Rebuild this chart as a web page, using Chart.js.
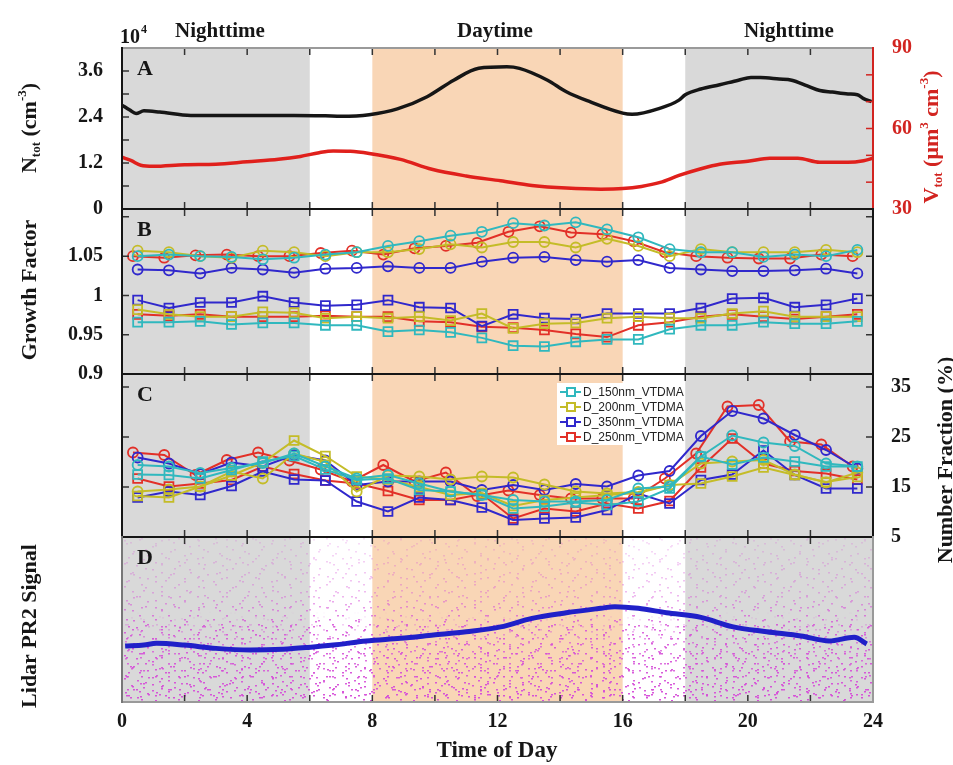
<!DOCTYPE html>
<html>
<head>
<meta charset="utf-8">
<script src="https://cdn.jsdelivr.net/npm/chart.js@4.4.0/dist/chart.umd.min.js"></script>
<style>
  html, body { margin: 0; padding: 0; background: #fff; }
  #wrap { position: relative; width: 953px; height: 765px; }
  #wrap canvas { position: absolute; left: 0; top: 0; }
</style>
</head>
<body>
<div id="wrap">
  <canvas id="cA" width="953" height="765"></canvas>
  <canvas id="cB" width="953" height="765"></canvas>
  <canvas id="cC" width="953" height="765"></canvas>
  <canvas id="cD" width="953" height="765"></canvas>
</div>
<script>
// ---------- periods of the day (hours) ----------
const nightPeriods = [[0, 6], [18, 24]];
const dayPeriod = [8, 16];
const periodLabels = ['Nighttime', 'Daytime', 'Nighttime'];

// ---------- tick labels ----------
const hourTicks = [0, 4, 8, 12, 16, 20, 24];
const ntotTicks = [0, 1.2, 2.4, 3.6];
const vtotTicks = [30, 60, 90];
const gfTicks = [0.9, 0.95, 1, 1.05];
const nfTicks = [5, 15, 25, 35];

// ---------- panel A: total number (x10^4 cm^-3) and volume (um^3 cm^-3) ----------
const ntotHours = [0, 0.25, 0.45, 0.7, 1.2, 2.2, 3.1, 4.4, 5.5, 6.5, 7.0, 7.9, 8.8, 9.75, 10.6, 11.4, 12.3, 12.7, 13.6, 14.2, 14.95, 16.0, 16.3, 17.2, 17.8, 18.0, 18.5, 19.1, 19.7, 20.1, 20.4, 21.0, 21.4, 21.9, 22.3, 22.7, 23.2, 23.5, 23.7, 23.95];
const ntotValues = [2.71, 2.58, 2.49, 2.56, 2.53, 2.44, 2.44, 2.44, 2.44, 2.43, 2.42, 2.46, 2.61, 2.93, 3.36, 3.67, 3.71, 3.67, 3.36, 3.06, 2.80, 2.50, 2.47, 2.63, 2.84, 2.98, 3.13, 3.24, 3.36, 3.43, 3.43, 3.39, 3.36, 3.21, 3.09, 3.05, 3.00, 2.98, 2.88, 2.80];
const vtotHours = [0, 0.3, 0.6, 1.0, 2.0, 3.0, 4.0, 5.0, 5.7, 6.3, 6.75, 7.3, 7.9, 8.9, 9.9, 11.0, 12.1, 13.1, 14.2, 15.3, 16.0, 16.6, 17.2, 17.8, 18.5, 19.1, 20.0, 20.7, 21.6, 22.3, 23.2, 23.7, 24];
const vtotValues = [49.3, 48.0, 46.3, 45.9, 46.5, 46.7, 47.6, 48.5, 49.6, 51.0, 51.6, 51.5, 50.7, 48.5, 44.8, 42.3, 40.5, 38.8, 37.8, 37.4, 37.6, 38.4, 39.9, 42.5, 45.0, 46.7, 47.8, 48.9, 48.9, 47.4, 47.4, 48.0, 48.9];

// ---------- panels B and C: VTDMA hourly scans ----------
const sizeLabels = ['D_150nm_VTDMA', 'D_200nm_VTDMA', 'D_350nm_VTDMA', 'D_250nm_VTDMA'];
const scanHours = [0.5, 1.5, 2.5, 3.5, 4.5, 5.5, 6.5, 7.5, 8.5, 9.5, 10.5, 11.5, 12.5, 13.5, 14.5, 15.5, 16.5, 17.5, 18.5, 19.5, 20.5, 21.5, 22.5, 23.5];
const scanHours250 = [0.35, 1.35, 2.35, 3.35, 4.35, 5.35, 6.35, 7.35, 8.35, 9.35, 10.35, 11.35, 12.35, 13.35, 14.35, 15.35, 16.35, 17.35, 18.35, 19.35, 20.35, 21.35, 22.35, 23.35];

// growth factor, upper mode (circles)
const gfHigh150 = [1.050, 1.052, 1.050, 1.049, 1.046, 1.048, 1.052, 1.055, 1.063, 1.069, 1.076, 1.081, 1.092, 1.089, 1.093, 1.084, 1.074, 1.059, 1.055, 1.055, 1.049, 1.052, 1.050, 1.058];
const gfHigh200 = [1.057, 1.055, 1.050, 1.048, 1.057, 1.055, 1.050, 1.055, 1.055, 1.059, 1.065, 1.061, 1.068, 1.068, 1.061, 1.072, 1.063, 1.050, 1.059, 1.055, 1.055, 1.055, 1.058, 1.055];
const gfHigh350 = [1.033, 1.032, 1.028, 1.035, 1.033, 1.029, 1.034, 1.035, 1.037, 1.035, 1.035, 1.043, 1.048, 1.049, 1.045, 1.043, 1.045, 1.035, 1.033, 1.031, 1.031, 1.032, 1.034, 1.028];
const gfHigh250 = [1.050, 1.048, 1.051, 1.052, 1.050, 1.050, 1.054, 1.057, 1.052, 1.060, 1.063, 1.067, 1.081, 1.088, 1.080, 1.078, 1.069, 1.055, 1.050, 1.048, 1.047, 1.047, 1.052, 1.050];
// growth factor, lower mode (squares)
const gfLow150 = [0.966, 0.966, 0.967, 0.963, 0.965, 0.965, 0.962, 0.962, 0.954, 0.956, 0.953, 0.946, 0.936, 0.935, 0.941, 0.944, 0.944, 0.957, 0.962, 0.962, 0.966, 0.964, 0.964, 0.967];
const gfLow200 = [0.982, 0.976, 0.973, 0.973, 0.979, 0.978, 0.971, 0.973, 0.971, 0.973, 0.968, 0.977, 0.958, 0.964, 0.965, 0.971, 0.973, 0.971, 0.971, 0.977, 0.980, 0.973, 0.973, 0.973];
const gfLow350 = [0.994, 0.984, 0.991, 0.991, 0.999, 0.991, 0.987, 0.988, 0.994, 0.985, 0.984, 0.961, 0.976, 0.971, 0.970, 0.977, 0.977, 0.977, 0.984, 0.996, 0.997, 0.985, 0.988, 0.996];
const gfLow250 = [0.976, 0.974, 0.976, 0.973, 0.973, 0.973, 0.974, 0.973, 0.973, 0.967, 0.966, 0.960, 0.959, 0.956, 0.951, 0.947, 0.962, 0.966, 0.973, 0.976, 0.973, 0.970, 0.973, 0.976];

// number fraction (%), upper mode (circles)
const nfHigh150 = [19.4, 19.1, 17.8, 18.8, 19.8, 21.7, 19.1, 16.7, 17.4, 15.7, 14.1, 13.4, 12.4, 12.1, 12.1, 12.4, 14.7, 15.1, 21.1, 25.3, 23.9, 23.2, 19.7, 19.1];
const nfHigh200 = [14.1, 14.5, 15.1, 18.1, 16.7, 21.7, 20.0, 14.1, 17.3, 17.1, 16.5, 17.1, 16.9, 15.5, 14.1, 13.7, 14.0, 15.4, 19.7, 20.1, 20.4, 17.5, 15.9, 17.9];
const nfHigh350 = [20.9, 19.7, 17.6, 19.9, 19.1, 21.4, 20.3, 15.4, 16.1, 16.1, 16.1, 14.4, 15.4, 14.4, 15.6, 15.1, 17.3, 18.2, 25.2, 30.2, 28.7, 25.4, 22.4, 18.7];
const nfHigh250 = [21.9, 21.4, 17.4, 20.4, 21.9, 20.3, 18.5, 16.1, 19.4, 16.1, 17.9, 13.2, 14.3, 13.4, 12.7, 12.7, 12.7, 16.7, 21.7, 31.1, 31.4, 24.1, 23.5, 19.1];
// number fraction (%), lower mode (squares)
const nfLow150 = [17.5, 17.4, 16.7, 18.4, 20.1, 21.2, 18.5, 16.4, 16.7, 14.4, 14.1, 13.4, 10.7, 11.1, 11.9, 11.4, 12.1, 14.7, 21.1, 19.5, 20.9, 20.1, 19.1, 19.1];
const nfLow200 = [13.2, 12.9, 15.1, 17.3, 19.9, 24.3, 21.2, 17.1, 16.5, 15.0, 13.4, 13.8, 11.2, 12.4, 12.9, 13.4, 13.8, 15.4, 15.7, 17.1, 18.9, 17.4, 16.0, 17.0];
const nfLow350 = [12.9, 14.1, 13.4, 15.2, 18.1, 16.5, 16.3, 12.1, 10.1, 12.9, 12.4, 10.9, 8.4, 8.7, 8.9, 10.4, 13.7, 11.7, 16.4, 17.5, 22.3, 17.4, 14.7, 14.7];
const nfLow250 = [16.7, 15.1, 15.7, 16.4, 19.1, 17.6, 16.3, 15.7, 14.2, 12.4, 12.4, 13.6, 8.7, 10.7, 10.1, 11.7, 10.7, 12.2, 18.9, 24.7, 19.7, 18.2, 17.7, 16.5];

// ---------- panel D: lidar PR2 signal (arbitrary units) ----------
const lidarHours = [0.1, 0.7, 1.1, 2.0, 3.0, 4.1, 5.15, 5.95, 6.75, 7.8, 8.9, 9.95, 11.0, 12.1, 13.1, 14.2, 15.3, 15.75, 16.5, 17.4, 18.5, 19.5, 20.6, 21.7, 22.6, 23.4, 23.8];
const lidarValues = [3.39, 3.45, 3.56, 3.45, 3.25, 3.15, 3.20, 3.31, 3.45, 3.70, 3.86, 4.06, 4.26, 4.55, 5.07, 5.41, 5.68, 5.78, 5.68, 5.41, 5.13, 4.57, 4.26, 4.00, 3.70, 3.92, 3.52];

// ---------- styling ----------
const SERIF = '"Liberation Serif", "Times New Roman", serif';
const SANS = '"Liberation Sans", Arial, sans-serif';
const NIGHT = '#d9d9d9';
const DAY = '#f9d6b6';
const INK = '#161616';
const RED = 'rgb(210,36,32)';
const sizeColors = ['rgb(48,184,190)', 'rgb(196,188,40)', 'rgb(48,40,204)', 'rgb(226,48,40)'];
const tickFont = { family: SERIF, size: 20, weight: 'bold' };

Chart.defaults.font.family = SERIF;

const pts = (xs, ys) => xs.map((x, i) => ({ x, y: ys[i] }));
const setTicks = values => scale => { scale.ticks = values.map(v => ({ value: v })); };

// rich text with sub/superscripts, drawn centred on (cx, cy)
function richText(ctx, parts, cx, cy, angle, color) {
  ctx.save();
  ctx.translate(cx, cy);
  ctx.rotate(angle);
  ctx.fillStyle = color;
  ctx.textAlign = 'left';
  ctx.textBaseline = 'alphabetic';
  let w = 0;
  parts.forEach(p => { ctx.font = p.font; p.w = ctx.measureText(p.text).width; w += p.w; });
  let x = -w / 2;
  parts.forEach(p => { ctx.font = p.font; ctx.fillText(p.text, x, 8 + (p.dy || 0)); x += p.w; });
  ctx.restore();
}
const BIG = `bold 22px ${SERIF}`;
const SMALL = `bold 13px ${SERIF}`;

// lidar returns: magenta speckle, thicker toward the ground.
// Dot tiles with unrelated periods are layered so the texture does not line up.
const speckleTiles = [
  { w: 37, h: 23, dots: [[2, 3], [19, 1], [30, 9], [11, 14], [25, 18], [6, 20]] },
  { w: 29, h: 19, dots: [[4, 6], [17, 2], [23, 12], [10, 16]] },
  { w: 43, h: 31, dots: [[8, 5], [33, 8], [21, 22], [39, 27], [14, 28]] }
];
const groundTiles = [
  { w: 31, h: 17, dots: [[3, 2], [15, 7], [26, 4], [9, 12], [21, 14]] },
  { w: 41, h: 13, dots: [[5, 9], [18, 3], [30, 10], [37, 1]] }
];
function speckleLayer(w, h, tiles, stops) {
  const off = document.createElement('canvas');
  off.width = w; off.height = h;
  const o = off.getContext('2d');
  tiles.forEach(tl => {
    const tile = document.createElement('canvas');
    tile.width = tl.w; tile.height = tl.h;
    const t = tile.getContext('2d');
    t.fillStyle = 'rgb(214,80,216)';
    tl.dots.forEach(([px, py]) => t.fillRect(px, py, 2, 1.5));
    o.fillStyle = o.createPattern(tile, 'repeat');
    o.fillRect(0, 0, w, h);
  });
  o.globalCompositeOperation = 'destination-in';
  const g = o.createLinearGradient(0, 0, 0, h);
  stops.forEach(([p, al]) => g.addColorStop(p, `rgba(0,0,0,${al})`));
  o.fillStyle = g;
  o.fillRect(0, 0, w, h);
  return off;
}
function drawSpeckle(ctx, a) {
  const w = Math.round(a.right - a.left), h = Math.round(a.bottom - a.top);
  ctx.drawImage(speckleLayer(w, h, speckleTiles, [[0, 0.18], [0.35, 0.4], [0.55, 0.85], [1, 1]]), a.left, a.top);
  ctx.drawImage(speckleLayer(w, h, groundTiles, [[0, 0], [0.45, 0], [0.65, 0.7], [1, 1]]), a.left, a.top);
}

// shading, frame, inward ticks, panel letter, legend and titles
const panelDecor = {
  id: 'panelDecor',
  beforeDatasetsDraw(chart, args, o) {
    const { ctx, chartArea: a, scales: { x } } = chart;
    ctx.save();
    const band = (h0, h1, c) => {
      const x0 = x.getPixelForValue(h0), x1 = x.getPixelForValue(h1);
      ctx.fillStyle = c;
      ctx.fillRect(x0, a.top, x1 - x0, a.bottom - a.top);
    };
    nightPeriods.forEach(p => band(p[0], p[1], NIGHT));
    band(dayPeriod[0], dayPeriod[1], DAY);
    if (o.speckle) drawSpeckle(ctx, a);
    ctx.restore();
  },
  afterDatasetsDraw(chart, args, o) {
    const { ctx, chartArea: a, scales } = chart;
    const x = scales.x;
    ctx.save();
    // inward time ticks
    ctx.strokeStyle = '#333';
    ctx.lineWidth = 1.5;
    for (let h = 2; h < 24; h += 2) {
      const px = x.getPixelForValue(h);
      ctx.beginPath();
      ctx.moveTo(px, a.top); ctx.lineTo(px, a.top + 7);
      ctx.moveTo(px, a.bottom); ctx.lineTo(px, a.bottom - 7);
      ctx.stroke();
    }
    // inward value ticks
    (o.valueTicks || []).forEach(t => {
      const s = scales[t.scale];
      ctx.strokeStyle = t.color || '#333';
      t.values.forEach(v => {
        const py = s.getPixelForValue(v);
        ctx.beginPath();
        if (t.side !== 'right') { ctx.moveTo(a.left, py); ctx.lineTo(a.left + 7, py); }
        if (t.side !== 'left') { ctx.moveTo(a.right, py); ctx.lineTo(a.right - 7, py); }
        ctx.stroke();
      });
    });
    // frame
    const fr = o.frame || {};
    const edge = (x0, y0, x1, y1, c) => {
      ctx.strokeStyle = c; ctx.lineWidth = 2;
      ctx.beginPath(); ctx.moveTo(x0, y0); ctx.lineTo(x1, y1); ctx.stroke();
    };
    edge(a.left, a.top, a.right, a.top, fr.top || INK);
    edge(a.left, a.bottom, a.right, a.bottom, fr.bottom || INK);
    edge(a.left, a.top - 1, a.left, a.bottom + 1, fr.left || INK);
    edge(a.right, a.top - 1, a.right, a.bottom + 1, fr.right || INK);
    // panel letter
    ctx.fillStyle = INK;
    ctx.font = `bold 22px ${SERIF}`;
    ctx.textAlign = 'left';
    ctx.textBaseline = 'alphabetic';
    ctx.fillText(o.letter, a.left + 15, a.top + 27);
    // legend
    if (o.legend) {
      const lx = 557, ly = 383, lw = 128, lh = 62;
      ctx.fillStyle = '#fff';
      ctx.fillRect(lx, ly, lw, lh);
      ctx.font = `12px ${SANS}`;
      ctx.textBaseline = 'middle';
      sizeLabels.forEach((lab, i) => {
        const yy = ly + 9 + i * 15;
        ctx.strokeStyle = sizeColors[i];
        ctx.lineWidth = 2;
        ctx.beginPath(); ctx.moveTo(lx + 3, yy); ctx.lineTo(lx + 24, yy); ctx.stroke();
        ctx.fillStyle = '#fff';
        ctx.fillRect(lx + 10, yy - 4, 8, 8);
        ctx.strokeRect(lx + 10, yy - 4, 8, 8);
        ctx.fillStyle = '#222';
        ctx.fillText(lab, lx + 26, yy + 1);
      });
    }
    ctx.restore();
  },
  afterDraw(chart, args, o) {
    if (o.titles) o.titles(chart.ctx, chart.chartArea, chart.scales);
  }
};

const base = {
  responsive: false,
  animation: false,
  devicePixelRatio: 1,
  events: [],
};
const xHidden = { type: 'linear', min: 0, max: 24, display: false };
const noGrid = { display: false };
const noBorder = { display: false };

// ---------- panel A ----------
new Chart(document.getElementById('cA'), {
  type: 'line',
  data: {
    datasets: [
      { label: 'N_tot', data: pts(ntotHours, ntotValues), yAxisID: 'yN', borderColor: INK, borderWidth: 3.5, pointRadius: 0, cubicInterpolationMode: 'monotone' },
      { label: 'V_tot', data: pts(vtotHours, vtotValues), yAxisID: 'yV', borderColor: 'rgb(224,32,28)', borderWidth: 3.5, pointRadius: 0, cubicInterpolationMode: 'monotone' }
    ]
  },
  options: {
    ...base,
    layout: { padding: { top: 48, bottom: 556, left: 0, right: 0 } },
    scales: {
      x: xHidden,
      yN: {
        position: 'left', min: 0, max: 4.2,
        afterFit: s => { s.width = 122; },
        afterBuildTicks: setTicks(ntotTicks),
        ticks: { font: tickFont, color: INK, padding: 11, callback: v => (v === 0 ? '0' : v.toFixed(1)) },
        grid: noGrid, border: noBorder
      },
      yV: {
        position: 'right', min: 30, max: 90,
        afterFit: s => { s.width = 80; },
        afterBuildTicks: setTicks(vtotTicks),
        ticks: { font: tickFont, color: RED, padding: 11 },
        grid: noGrid, border: noBorder
      }
    },
    plugins: {
      legend: { display: false }, tooltip: { enabled: false },
      panelDecor: {
        letter: 'A',
        frame: { top: '#9a9a9a', right: RED },
        valueTicks: [
          { scale: 'yN', side: 'left', values: [0.6, 1.2, 1.8, 2.4, 3.0, 3.6] },
          { scale: 'yV', side: 'right', color: RED, values: [40, 50, 60, 70, 80] }
        ],
        titles: (ctx, a) => {
          // multiplier of the number axis
          ctx.save();
          ctx.fillStyle = INK;
          ctx.textAlign = 'left';
          ctx.textBaseline = 'alphabetic';
          ctx.font = `bold 20px ${SERIF}`;
          ctx.fillText('10', a.left - 2, 43);
          ctx.font = `bold 12px ${SERIF}`;
          ctx.fillText('4', a.left + 19, 33);
          // periods of the day
          ctx.font = `bold 21px ${SERIF}`;
          ctx.textAlign = 'center';
          ctx.fillText(periodLabels[0], 220, 37);
          ctx.fillText(periodLabels[1], 495, 37);
          ctx.fillText(periodLabels[2], 789, 37);
          ctx.restore();
          richText(ctx, [
            { text: 'N', font: BIG }, { text: 'tot', font: SMALL, dy: 4 },
            { text: ' (cm', font: BIG }, { text: '-3', font: SMALL, dy: -10 }, { text: ')', font: BIG }
          ], 28, 128, -Math.PI / 2, INK);
          richText(ctx, [
            { text: 'V', font: BIG }, { text: 'tot', font: SMALL, dy: 4 },
            { text: ' (\u03bcm', font: BIG }, { text: '3', font: SMALL, dy: -10 },
            { text: ' cm', font: BIG }, { text: '-3', font: SMALL, dy: -10 }, { text: ')', font: BIG }
          ], 930, 137, -Math.PI / 2, RED);
        }
      }
    }
  },
  plugins: [panelDecor]
});

// ---------- VTDMA datasets ----------
function vtdmaSets(high, low) {
  return sizeLabels.flatMap((lab, i) => [
    {
      label: lab, data: pts(i === 3 ? scanHours250 : scanHours, high[i]),
      borderColor: sizeColors[i], borderWidth: 2, pointStyle: 'circle', pointRadius: 5,
      pointBorderWidth: 1.8, pointBackgroundColor: 'rgba(0,0,0,0)', pointBorderColor: sizeColors[i]
    },
    {
      label: lab, data: pts(scanHours, low[i]),
      borderColor: sizeColors[i], borderWidth: 2, pointStyle: 'rect', pointRadius: 6.3,
      pointBorderWidth: 1.8, pointBackgroundColor: 'rgba(0,0,0,0)', pointBorderColor: sizeColors[i]
    }
  ]);
}

// ---------- panel B ----------
new Chart(document.getElementById('cB'), {
  type: 'line',
  data: { datasets: vtdmaSets([gfHigh150, gfHigh200, gfHigh350, gfHigh250], [gfLow150, gfLow200, gfLow350, gfLow250]) },
  options: {
    ...base,
    layout: { padding: { top: 209, bottom: 391, left: 0, right: 80 } },
    scales: {
      x: xHidden,
      y: {
        position: 'left', min: 0.9, max: 1.11,
        afterFit: s => { s.width = 122; },
        afterBuildTicks: setTicks(gfTicks),
        ticks: { font: tickFont, color: INK, padding: 11, callback: v => String(v) },
        grid: noGrid, border: noBorder
      }
    },
    plugins: {
      legend: { display: false }, tooltip: { enabled: false },
      panelDecor: {
        letter: 'B',
        valueTicks: [{ scale: 'y', values: [0.95, 1, 1.05, 1.1] }],
        titles: ctx => {
          richText(ctx, [{ text: 'Growth Factor', font: BIG }], 28, 290, -Math.PI / 2, INK);
        }
      }
    }
  },
  plugins: [panelDecor]
});

// ---------- panel C ----------
new Chart(document.getElementById('cC'), {
  type: 'line',
  data: { datasets: vtdmaSets([nfHigh150, nfHigh200, nfHigh350, nfHigh250], [nfLow150, nfLow200, nfLow350, nfLow250]) },
  options: {
    ...base,
    layout: { padding: { top: 374, bottom: 228, left: 122, right: 0 } },
    scales: {
      x: xHidden,
      y: {
        position: 'right', min: 5, max: 37.6,
        afterFit: s => { s.width = 80; },
        afterBuildTicks: setTicks(nfTicks),
        ticks: { font: tickFont, color: INK, padding: 10 },
        grid: noGrid, border: noBorder
      }
    },
    plugins: {
      legend: { display: false }, tooltip: { enabled: false },
      panelDecor: {
        letter: 'C',
        legend: true,
        valueTicks: [{ scale: 'y', values: [15, 25, 35] }],
        titles: ctx => {
          richText(ctx, [{ text: 'Number Fraction (%)', font: BIG }], 944, 460, -Math.PI / 2, INK);
        }
      }
    }
  },
  plugins: [panelDecor]
});

// ---------- panel D ----------
new Chart(document.getElementById('cD'), {
  type: 'line',
  data: {
    datasets: [
      { label: 'Lidar PR2', data: pts(lidarHours, lidarValues), borderColor: 'rgb(32,32,200)', borderWidth: 5, pointRadius: 0, cubicInterpolationMode: 'monotone' }
    ]
  },
  options: {
    ...base,
    layout: { padding: { top: 537, bottom: 0, left: 122, right: 80 } },
    scales: {
      x: {
        type: 'linear', min: 0, max: 24, position: 'bottom',
        afterFit: s => { s.height = 63; },
        afterBuildTicks: setTicks(hourTicks),
        ticks: { font: tickFont, color: INK, padding: 0, maxRotation: 0, autoSkip: false },
        grid: noGrid, border: noBorder
      },
      y: { min: 0, max: 10, display: false }
    },
    plugins: {
      legend: { display: false }, tooltip: { enabled: false },
      panelDecor: {
        letter: 'D',
        speckle: true,
        frame: { bottom: '#9a9a9a', right: '#9a9a9a', left: '#777' },
        titles: ctx => {
          richText(ctx, [{ text: 'Lidar PR2 Signal', font: BIG }], 28, 626, -Math.PI / 2, INK);
          ctx.save();
          ctx.fillStyle = INK;
          ctx.font = `bold 23px ${SERIF}`;
          ctx.textAlign = 'center';
          ctx.textBaseline = 'alphabetic';
          ctx.fillText('Time of Day', 497, 757);
          ctx.restore();
        }
      }
    }
  },
  plugins: [panelDecor]
});
</script>
</body>
</html>
